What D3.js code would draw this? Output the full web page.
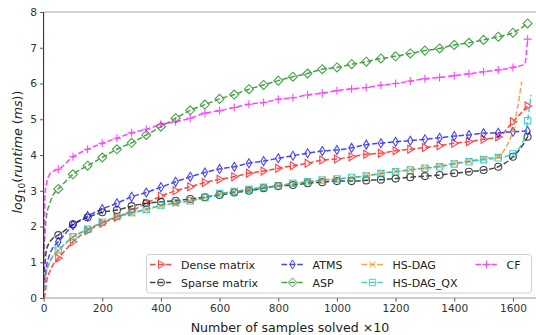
<!DOCTYPE html>
<html>
<head>
<meta charset="utf-8">
<script src="https://cdn.jsdelivr.net/npm/d3@7"></script>
<style>
  body { margin: 0; background: #fff; }
  svg { font-family: "DejaVu Sans", sans-serif; }
</style>
</head>
<body>
<div id="chart"></div>
<script>
var width = 536,
    height = 335;

// x positions of the markers (every 50 samples) and of the steep start
var markX = d3.range(50, 1651, 50);
var headX = [0, 5, 10, 20, 30, 40];

var xTicks = [0, 200, 400, 600, 800, 1000, 1200, 1400, 1600];
var yTicks = [0, 1, 2, 3, 4, 5, 6, 7, 8];

// log10(runtime) read at each marker
var denseY  = [1.11,1.57,1.88,2.09,2.26,2.44,2.65,2.85,3.00,3.11,3.23,3.32,3.39,3.49,3.55,3.63,3.70,3.77,3.86,3.89,3.95,4.02,4.05,4.12,4.16,4.21,4.26,4.33,4.37,4.44,4.51,4.93,5.37];
var sparseY = [1.76,2.06,2.25,2.40,2.46,2.57,2.65,2.69,2.72,2.77,2.82,2.88,2.95,3.00,3.07,3.13,3.16,3.21,3.24,3.27,3.27,3.29,3.31,3.34,3.38,3.41,3.44,3.49,3.53,3.58,3.67,3.95,4.51];
var atmsY   = [1.57,2.04,2.29,2.49,2.65,2.83,2.95,3.10,3.25,3.39,3.51,3.61,3.67,3.77,3.83,3.91,3.98,4.05,4.11,4.14,4.20,4.29,4.33,4.37,4.40,4.44,4.48,4.53,4.56,4.61,4.62,4.65,4.67];
var aspY    = [3.05,3.46,3.70,3.93,4.16,4.34,4.56,4.79,5.03,5.25,5.41,5.57,5.69,5.84,5.96,6.08,6.19,6.28,6.40,6.45,6.54,6.61,6.70,6.76,6.84,6.92,6.98,7.08,7.14,7.22,7.31,7.42,7.68];
var hsdagY  = [1.32,1.70,1.91,2.10,2.26,2.37,2.47,2.58,2.65,2.71,2.80,2.91,2.97,3.03,3.09,3.14,3.20,3.25,3.30,3.33,3.37,3.42,3.49,3.54,3.59,3.64,3.69,3.77,3.83,3.90,3.96,4.70];
var hsqxY   = [1.34,1.71,1.92,2.12,2.28,2.39,2.48,2.60,2.67,2.72,2.81,2.92,2.98,3.04,3.10,3.14,3.21,3.25,3.30,3.33,3.37,3.41,3.48,3.53,3.58,3.63,3.67,3.75,3.81,3.87,3.92,4.03,4.96];
var cfY     = [3.60,3.95,4.16,4.33,4.47,4.62,4.72,4.86,4.93,5.03,5.17,5.24,5.33,5.42,5.47,5.56,5.60,5.68,5.73,5.80,5.85,5.89,5.95,6.00,6.07,6.13,6.17,6.22,6.27,6.33,6.38,6.45,7.24];

// values on the steep part near zero (at headX)
var denseHead  = [0.00, 0.10, 0.45, 0.72, 0.90, 1.02];
var sparseHead = [0.50, 1.00, 1.35, 1.55, 1.66, 1.72];
var atmsHead   = [0.20, 0.60, 0.90, 1.20, 1.38, 1.49];
var aspHead    = [0.90, 1.90, 2.30, 2.62, 2.84, 2.97];
var hsdagHead  = [0.15, 0.45, 0.72, 0.98, 1.13, 1.24];
var hsqxHead   = [0.20, 0.50, 0.75, 1.00, 1.15, 1.26];
var cfHead     = [0.50, 2.90, 3.20, 3.45, 3.53, 3.57];

// extra points where the curves shoot up at the end
var sparseTail = [[1658, 4.65]];
var hsdagTail  = [[1575, 4.20], [1615, 5.30], [1630, 6.05]];
var hsqxTail   = [[1635, 4.40], [1662, 5.68]];
var cfTail     = [[1640, 6.55]];

var series = [
    {name: "Dense matrix",  color: "#ff0000", marker: "tri",     head: denseHead,  y: denseY,  tail: []},
    {name: "Sparse matrix", color: "#000000", marker: "circle",  head: sparseHead, y: sparseY, tail: sparseTail},
    {name: "ATMS",          color: "#0000ff", marker: "thin",    head: atmsHead,   y: atmsY,   tail: []},
    {name: "ASP",           color: "#008000", marker: "diamond", head: aspHead,    y: aspY,    tail: []},
    {name: "HS-DAG",        color: "#ff7f0e", marker: "x",       head: hsdagHead,  y: hsdagY,  tail: hsdagTail},
    {name: "HS-DAG_QX",     color: "#00bfbf", marker: "square",  head: hsqxHead,   y: hsqxY,   tail: hsqxTail},
    {name: "CF",            color: "#ff00ff", marker: "plus",    head: cfHead,     y: cfY,     tail: cfTail}
];

var margin = {left: 43.6, top: 12, bottom: 298};

var x = d3.scaleLinear().domain([0, 1680]).range([margin.left, margin.left + 1680 * 0.29333]);
var y = d3.scaleLinear().domain([0, 8]).range([margin.bottom, margin.top]);

var svg = d3.select("#chart").append("svg")
    .attr("width", width)
    .attr("height", height);

svg.append("clipPath").attr("id", "clip")
    .append("rect")
    .attr("x", x(0)).attr("y", y(8))
    .attr("width", x(1680) - x(0)).attr("height", y(0) - y(8));

// marker shapes, centred on 0,0
function markerPath(type) {
    switch (type) {
        case "tri": return "M4,0L-2.5,-4L-2.5,4Z";
        case "circle": return "M3.5,0A3.5,3.5 0 1,1 -3.5,0A3.5,3.5 0 1,1 3.5,0Z";
        case "thin": return "M0,-4.5L2.7,0L0,4.5L-2.7,0Z";
        case "diamond": return "M0,-4.5L4.5,0L0,4.5L-4.5,0Z";
        case "x": return "M-3,-3L3,3M-3,3L3,-3";
        case "square": return "M-3.2,-3.2H3.2V3.2H-3.2Z";
        case "plus": return "M-4,0H4M0,-4V4";
    }
}

var line = d3.line()
    .x(function(d) { return x(d[0]); })
    .y(function(d) { return y(d[1]); })
    .curve(d3.curveMonotoneX);

var plot = svg.append("g").attr("clip-path", "url(#clip)");

series.forEach(function(s) {
    var marks = s.y.map(function(v, i) { return [markX[i], v]; });
    var pts = s.head.map(function(v, i) { return [headX[i], v]; })
        .concat(marks, s.tail)
        .sort(function(a, b) { return a[0] - b[0]; });

    var g = plot.append("g").attr("opacity", 0.72);
    g.append("path")
        .datum(pts)
        .attr("d", line)
        .attr("fill", "none")
        .attr("stroke", s.color)
        .attr("stroke-width", 1.5)
        .attr("stroke-dasharray", "5.5,2.4");

    g.selectAll(".m")
        .data(marks).enter()
        .append("path")
        .attr("transform", function(d) { return "translate(" + x(d[0]) + "," + y(d[1]) + ")"; })
        .attr("d", markerPath(s.marker))
        .attr("fill", "none")
        .attr("stroke", s.color)
        .attr("stroke-width", 1.1);
});

// spines
svg.append("line").attr("x1", x(0)).attr("x2", width).attr("y1", y(8)).attr("y2", y(8))
    .attr("stroke", "#aaa").attr("stroke-width", 1);
svg.append("line").attr("x1", x(0)).attr("x2", width).attr("y1", y(0)).attr("y2", y(0))
    .attr("stroke", "#999").attr("stroke-width", 1);
svg.append("line").attr("x1", x(0)).attr("x2", x(0)).attr("y1", y(8)).attr("y2", y(0))
    .attr("stroke", "#222").attr("stroke-width", 1);

// axes
var xAxis = svg.append("g")
    .attr("transform", "translate(0," + y(0) + ")")
    .call(d3.axisBottom(x).tickValues(xTicks).tickFormat(d3.format("d")).tickSize(3.5).tickPadding(3));
var yAxis = svg.append("g")
    .attr("transform", "translate(" + x(0) + ",0)")
    .call(d3.axisLeft(y).tickValues(yTicks).tickFormat(d3.format("d")).tickSize(3.5).tickPadding(3));

[xAxis, yAxis].forEach(function(a) {
    a.select(".domain").remove();
    a.selectAll(".tick line").attr("stroke", "#555");
    a.selectAll(".tick text")
        .attr("fill", "#333")
        .style("font-size", "10.6px")
        .style("font-family", "DejaVu Sans");
});

// axis labels
svg.append("text")
    .attr("x", 290).attr("y", 332)
    .attr("text-anchor", "middle")
    .attr("fill", "#222")
    .style("font-size", "12.6px")
    .text("Number of samples solved \u00d710");

var yl = svg.append("text")
    .attr("transform", "translate(22,152) rotate(-90)")
    .attr("text-anchor", "middle")
    .attr("fill", "#222")
    .style("font-size", "12.6px");
yl.append("tspan").style("font-style", "italic").text("log");
yl.append("tspan").attr("dy", 3).style("font-size", "9px").text("10");
yl.append("tspan").attr("dy", -3).text("(");
yl.append("tspan").style("font-style", "italic").text("runtime");
yl.append("tspan").text(" (");
yl.append("tspan").style("font-style", "italic").text("ms");
yl.append("tspan").text("))");

// legend
var legend = svg.append("g");
legend.append("rect")
    .attr("x", 146.5).attr("y", 254.5)
    .attr("width", 385).attr("height", 38.5)
    .attr("rx", 3)
    .attr("fill", "#fff").attr("fill-opacity", 0.85)
    .attr("stroke", "#d0d0d0");

var colX = [150, 281.5, 361.5, 475.5];
var rowY = [264.5, 282.5];

series.forEach(function(s, i) {
    var cx = colX[Math.floor(i / 2)],
        cy = rowY[i % 2];
    var item = legend.append("g");
    var sw = item.append("g").attr("opacity", 0.72);
    sw.append("line")
        .attr("x1", cx).attr("x2", cx + 22)
        .attr("y1", cy).attr("y2", cy)
        .attr("stroke", s.color).attr("stroke-width", 1.5)
        .attr("stroke-dasharray", "5.5,2.4");
    sw.append("path")
        .attr("transform", "translate(" + (cx + 11) + "," + cy + ")")
        .attr("d", markerPath(s.marker))
        .attr("fill", "none")
        .attr("stroke", s.color);
    item.append("text")
        .attr("x", cx + 31).attr("y", cy + 4)
        .attr("fill", "#222")
        .style("font-size", "11px")
        .text(s.name);
});
</script>
</body>
</html>
